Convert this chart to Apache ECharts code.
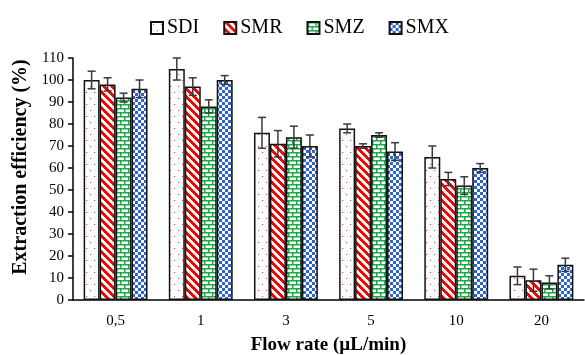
<!DOCTYPE html>
<html>
<head>
<meta charset="utf-8">
<script src="https://cdn.jsdelivr.net/npm/echarts@6/dist/echarts.min.js"></script>
<style>
  html, body { margin: 0; padding: 0; background: #fff; }
  #chart { width: 585px; height: 355px; }
</style>
</head>
<body>
<div id="chart"></div>
<script>
const categories = ['0,5', '1', '3', '5', '10', '20'];
const seriesNames = ['SDI', 'SMR', 'SMZ', 'SMX'];

const sdiValues = [100, 105, 76, 78, 65, 11];
const smrValues = [98, 97, 71, 70, 55, 9];
const smzValues = [92, 88, 74, 75, 52, 8];
const smxValues = [96, 100, 70, 67.5, 60, 16];

const sdiErrors = [4, 5, 7, 2, 5, 4];
const smrErrors = [3, 4, 6, 1, 3, 5];
const smzErrors = [2, 3, 5, 1, 4, 3];
const smxErrors = [4, 2, 5, 4, 2, 3];

const yTicks = { min: 0, max: 110, interval: 10 };

const FONT = '"Liberation Serif", "DejaVu Serif", serif';

// small canvas tiles used as bar fill patterns
function tile(w, h, draw) {
  const c = document.createElement('canvas');
  c.width = w; c.height = h;
  const ctx = c.getContext('2d');
  ctx.fillStyle = '#fff';
  ctx.fillRect(0, 0, w, h);
  draw(ctx, w, h);
  return { image: c, repeat: 'repeat' };
}

const dotsFill = tile(8, 12, (ctx) => {
  ctx.fillStyle = '#f04040';
  ctx.fillRect(2, 2, 1, 1);
  ctx.fillRect(6, 8, 1, 1);
});

const stripeFill = tile(8, 8, (ctx, w, h) => {
  ctx.fillStyle = '#ff0000';
  for (let y = 0; y < h; y++) {
    for (let x = 0; x < w; x++) {
      if (((x - y) % 8 + 8) % 8 < 4) ctx.fillRect(x, y, 1, 1);
    }
  }
});

const brickFill = tile(8, 8, (ctx) => {
  ctx.fillStyle = '#1ea84a';
  ctx.fillRect(0, 0, 8, 1.5);
  ctx.fillRect(0, 4, 8, 1.5);
  ctx.fillRect(0, 0, 1.5, 4);
  ctx.fillRect(4, 4, 1.5, 4);
});

const checkFill = tile(6, 6, (ctx) => {
  ctx.fillStyle = '#2c63d0';
  ctx.fillRect(0, 0, 3, 3);
  ctx.fillRect(3, 3, 3, 3);
});

const fills = [dotsFill, stripeFill, brickFill, checkFill];
const values = [sdiValues, smrValues, smzValues, smxValues];
const errors = [sdiErrors, smrErrors, smzErrors, smxErrors];

const BAR_SHARE = 0.75; // 25% category gap, bars touching
const nSeries = seriesNames.length;

const errorData = [];
values.forEach((arr, s) => {
  arr.forEach((v, i) => {
    errorData.push([i, v - errors[s][i], v + errors[s][i], s]);
  });
});

const chart = echarts.init(document.getElementById('chart'));

chart.setOption({
  animation: false,
  legend: {
    data: seriesNames,
    top: 13,
    left: 145,
    icon: 'rect',
    itemWidth: 12,
    itemHeight: 12,
    itemGap: 24,
    textStyle: { fontFamily: FONT, fontSize: 20, color: '#000', padding: [0, 0, 0, -1] },
  },
  grid: { left: 73, right: 1, top: 58, bottom: 55, outerBoundsMode: 'none' },
  xAxis: {
    type: 'category',
    data: categories,
    name: 'Flow rate (µL/min)',
    nameLocation: 'middle',
    nameGap: 36,
    nameTextStyle: { fontFamily: FONT, fontSize: 19, fontWeight: 'bold', color: '#000' },
    axisLine: { lineStyle: { color: '#000', width: 1.5 } },
    axisTick: { lineStyle: { color: '#000', width: 1.5 }, length: 5 },
    axisLabel: { fontFamily: FONT, fontSize: 15, color: '#000', margin: 14 },
  },
  yAxis: {
    type: 'value',
    min: yTicks.min,
    max: yTicks.max,
    interval: yTicks.interval,
    name: 'Extraction efficiency (%)',
    nameLocation: 'middle',
    nameGap: 42,
    nameTextStyle: { fontFamily: FONT, fontSize: 20, fontWeight: 'bold', color: '#000', padding: [0, 0, 0, 24] },
    axisLine: { show: true, lineStyle: { color: '#000', width: 1.5 } },
    axisTick: { show: true, lineStyle: { color: '#000', width: 1.5 }, length: 5 },
    axisLabel: { fontFamily: FONT, fontSize: 15, color: '#000', margin: 9 },
    splitLine: { show: false },
  },
  series: [
    ...seriesNames.map((name, s) => ({
      name,
      type: 'bar',
      data: values[s],
      barGap: '0%',
      barCategoryGap: '25%',
      itemStyle: { color: fills[s], borderColor: '#111', borderWidth: 1.5 },
    })),
    {
      type: 'custom',
      name: 'error',
      data: errorData,
      z: 10,
      renderItem: (params, api) => {
        const idx = api.value(0);
        const s = api.value(3);
        const catWidth = api.size([1, 0])[0];
        const barW = catWidth * BAR_SHARE / nSeries;
        const offset = -catWidth * BAR_SHARE / 2 + (s + 0.5) * barW;
        const lo = api.coord([idx, api.value(1)]);
        const hi = api.coord([idx, api.value(2)]);
        const x = lo[0] + offset;
        const cap = 4;
        const style = { stroke: '#3a3a3a', lineWidth: 1.5 };
        return {
          type: 'group',
          children: [
            { type: 'line', shape: { x1: x, y1: lo[1], x2: x, y2: hi[1] }, style },
            { type: 'line', shape: { x1: x - cap, y1: lo[1], x2: x + cap, y2: lo[1] }, style },
            { type: 'line', shape: { x1: x - cap, y1: hi[1], x2: x + cap, y2: hi[1] }, style },
          ],
        };
      },
    },
  ],
});
</script>
</body>
</html>
